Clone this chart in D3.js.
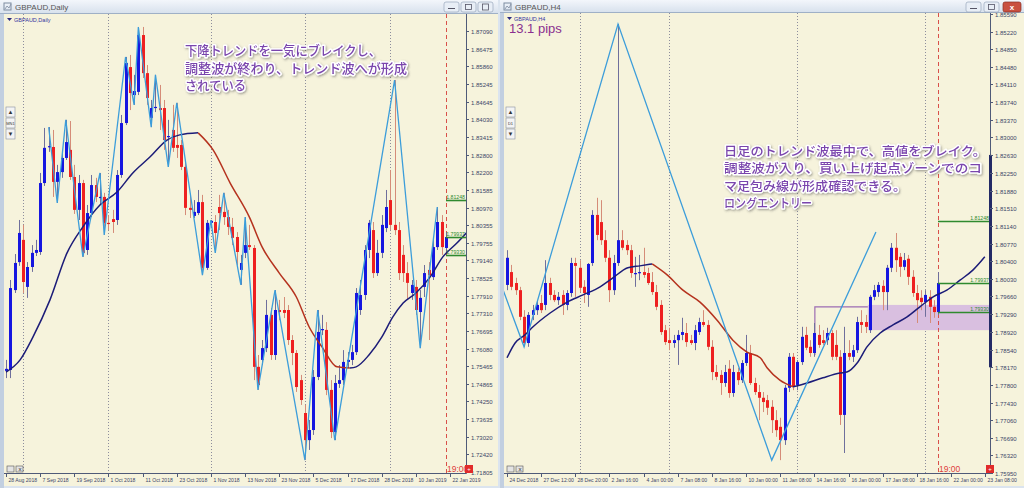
<!DOCTYPE html>
<html><head><meta charset="utf-8">
<script src="https://cdn.jsdelivr.net/npm/d3@7/dist/d3.min.js"></script>
<style>html,body{margin:0;padding:0;background:#dbe4ef;overflow:hidden}svg{display:block}</style>
</head><body>
<svg id="chart" width="1024" height="488" xmlns="http://www.w3.org/2000/svg"></svg>
<script>
// ================= LEFT PANEL DATA : GBPAUD, Daily =================
const leftOpen  = [1.7531,1.7534,1.7811,1.7908,1.7985,1.7822,1.7891,1.7940,1.7943,1.8182,1.8307,1.8307,1.8186,1.8220,1.8269,1.8297,1.8203,1.8089,1.8182,1.7950,1.8078,1.8175,1.8130,1.8134,1.8044,1.8057,1.8054,1.8210,1.8390,1.8584,1.8487,1.8498,1.8695,1.8563,1.8408,1.8442,1.8442,1.8442,1.8342,1.8366,1.8314,1.8314,1.8238,1.8096,1.8068,1.8078,1.8116,1.7888,1.8044,1.8047,1.8099,1.8082,1.8064,1.8030,1.7995,1.7881,1.7940,1.7967,1.7957,1.7545,1.7569,1.7610,1.7725,1.7586,1.7742,1.7742,1.7742,1.7638,1.7593,1.7499,1.7385,1.7291,1.7326,1.7510,1.7673,1.7673,1.7465,1.7319,1.7486,1.7499,1.7562,1.7569,1.7596,1.7742,1.7794,1.7950,1.8019,1.7870,1.7940,1.8026,1.8123,1.8037,1.8019,1.7933,1.7870,1.7801,1.7822,1.7735,1.7822,1.7881,1.7856,1.7960,1.8047,1.7957];
const leftHigh  = [1.7569,1.7846,1.7936,1.8054,1.8037,1.7908,1.7967,1.7985,1.8217,1.8373,1.8376,1.8366,1.8245,1.8290,1.8401,1.8397,1.8245,1.8210,1.8193,1.8106,1.8210,1.8200,1.8217,1.8148,1.8071,1.8089,1.8227,1.8418,1.8619,1.8626,1.8557,1.8723,1.8723,1.8591,1.8470,1.8557,1.8522,1.8470,1.8401,1.8453,1.8460,1.8331,1.8262,1.8141,1.8123,1.8158,1.8141,1.8054,1.8054,1.8071,1.8141,1.8148,1.8089,1.8061,1.8012,1.7933,1.8064,1.8037,1.7967,1.7586,1.7638,1.7777,1.7749,1.7811,1.7777,1.7787,1.7759,1.7655,1.7603,1.7517,1.7413,1.7361,1.7534,1.7742,1.7725,1.7700,1.7499,1.7517,1.7551,1.7603,1.7596,1.7621,1.7818,1.7846,1.7967,1.8054,1.8047,1.7985,1.8071,1.8158,1.8227,1.8539,1.8047,1.7967,1.7908,1.7846,1.7846,1.7811,1.7898,1.7908,1.7985,1.8099,1.8071,1.8012];
const leftLow   = [1.7506,1.7506,1.7801,1.7895,1.7801,1.7784,1.7874,1.7929,1.7933,1.8172,1.8290,1.8134,1.8113,1.8200,1.8262,1.8193,1.8075,1.8054,1.7926,1.7933,1.8064,1.8116,1.8106,1.8002,1.8019,1.8009,1.8037,1.8200,1.8383,1.8435,1.8453,1.8487,1.8546,1.8453,1.8376,1.8428,1.8366,1.8297,1.8238,1.8290,1.8269,1.8227,1.8071,1.8061,1.8061,1.8071,1.7863,1.7881,1.8026,1.7940,1.8019,1.8037,1.8002,1.7967,1.7898,1.7829,1.7922,1.7950,1.7499,1.7465,1.7551,1.7596,1.7569,1.7569,1.7707,1.7714,1.7621,1.7551,1.7458,1.7413,1.7222,1.7257,1.7309,1.7499,1.7655,1.7447,1.7298,1.7291,1.7472,1.7482,1.7541,1.7551,1.7586,1.7725,1.7777,1.7922,1.7853,1.7860,1.7922,1.8012,1.8019,1.8002,1.7846,1.7839,1.7777,1.7777,1.7725,1.7610,1.7787,1.7638,1.7846,1.7950,1.7933,1.7943];
const leftClose = [1.7538,1.7818,1.7905,1.8009,1.7839,1.7891,1.7940,1.7950,1.8182,1.8304,1.8310,1.8186,1.8220,1.8269,1.8324,1.8203,1.8089,1.8182,1.7940,1.8078,1.8175,1.8134,1.8134,1.8044,1.8040,1.8047,1.8210,1.8390,1.8598,1.8494,1.8501,1.8695,1.8563,1.8477,1.8442,1.8446,1.8435,1.8331,1.8345,1.8304,1.8304,1.8238,1.8096,1.8089,1.8082,1.8116,1.7888,1.8044,1.8051,1.8009,1.8078,1.8064,1.8030,1.7992,1.7943,1.7905,1.7967,1.7960,1.7545,1.7482,1.7610,1.7725,1.7586,1.7742,1.7735,1.7732,1.7638,1.7593,1.7475,1.7430,1.7291,1.7326,1.7510,1.7666,1.7676,1.7465,1.7319,1.7489,1.7499,1.7562,1.7569,1.7596,1.7801,1.7794,1.7950,1.8044,1.7870,1.7940,1.8037,1.8099,1.8037,1.8019,1.7870,1.7870,1.7836,1.7829,1.7742,1.7784,1.7870,1.7863,1.7960,1.8047,1.7960,1.7995];
// moving average (bar index, value)
const leftMaIndex = [0,3.3,6.3,10.3,14.3,18,22,26,29.7,33.7,37.7,40.7,45,48.5,52.5,57,60,64,68,71,74,77.5,80.5,82,85,88,90.6,93,96,99.3,102.3,105.6,108];
const leftMaValue = [1.7527,1.7569,1.7648,1.7777,1.7940,1.8030,1.8106,1.8151,1.8217,1.8272,1.8331,1.8349,1.8356,1.8297,1.8182,1.8064,1.7960,1.7870,1.7787,1.7683,1.7614,1.7545,1.7541,1.7545,1.7586,1.7648,1.7718,1.7766,1.7801,1.7856,1.7926,1.7974,1.8012];
// zigzag pivots
const leftZzIndex = [10,12,14,18,22,23,28,30,31,34,35,38,40,46,48,49,51,55,56,59,63,70,73,77,91,97,101];
const leftZzValue = [1.8376,1.8113,1.8401,1.7926,1.8217,1.8002,1.8619,1.8453,1.8723,1.8376,1.8557,1.8238,1.8460,1.7863,1.8054,1.7940,1.8148,1.7829,1.8064,1.7465,1.7811,1.7222,1.7742,1.7291,1.8539,1.7610,1.8099];
const leftPriceTicks = [1.87090,1.86475,1.85860,1.85245,1.84645,1.84030,1.83415,1.82800,1.82200,1.81585,1.80970,1.80355,1.79755,1.79140,1.78525,1.77910,1.77310,1.76695,1.76080,1.75465,1.74865,1.74250,1.73635,1.73020,1.72420,1.71805];
const leftDateLabels = ["28 Aug 2018","7 Sep 2018","19 Sep 2018","1 Oct 2018","11 Oct 2018","23 Oct 2018","1 Nov 2018","13 Nov 2018","23 Nov 2018","5 Dec 2018","17 Dec 2018","28 Dec 2018","10 Jan 2019","22 Jan 2019"];
const leftSeparators = [4,24,48,70,90];
const leftNote = ["下降トレンドを一気にブレイクし、","調整波が終わり、トレンド波へが形成","されている"];

// ================= RIGHT PANEL DATA : GBPAUD, H4 =================
const rightOpen  = [1.7990,1.8017,1.7994,1.7979,1.7923,1.7868,1.7927,1.7937,1.7952,1.7948,1.7994,1.7969,1.7958,1.7969,1.7948,1.7973,1.8036,1.8026,1.7986,1.7969,1.8036,1.8137,1.8122,1.8084,1.8047,1.7979,1.8036,1.8084,1.8074,1.8063,1.8013,1.8015,1.8017,1.8015,1.7996,1.7975,1.7948,1.7895,1.7874,1.7868,1.7874,1.7885,1.7889,1.7874,1.7868,1.7891,1.7912,1.7906,1.7860,1.7807,1.7801,1.7784,1.7814,1.7763,1.7807,1.7790,1.7826,1.7847,1.7784,1.7765,1.7753,1.7748,1.7734,1.7706,1.7692,1.7664,1.7774,1.7839,1.7780,1.7828,1.7885,1.7860,1.7847,1.7885,1.7874,1.7874,1.7889,1.7864,1.7839,1.7717,1.7847,1.7839,1.7853,1.7912,1.7912,1.7895,1.7965,1.7975,1.7988,1.7975,1.8026,1.8068,1.8049,1.8028,1.8045,1.8007,1.7973,1.7963,1.7954,1.7965,1.7944,1.7933];
const rightHigh  = [1.8063,1.8032,1.8005,1.7986,1.7937,1.7933,1.7948,1.7958,1.7969,1.8042,1.8005,1.7979,1.7975,1.7979,1.7979,1.8047,1.8047,1.8042,1.8000,1.8036,1.8147,1.8173,1.8168,1.8105,1.8063,1.8053,1.8538,1.8105,1.8084,1.8074,1.8049,1.8053,1.8068,1.8026,1.8017,1.7990,1.7958,1.7906,1.7900,1.7885,1.7895,1.7921,1.7910,1.7885,1.7906,1.7921,1.7937,1.7916,1.7874,1.7822,1.7811,1.7822,1.7832,1.7822,1.7816,1.7832,1.7885,1.7864,1.7795,1.7780,1.7765,1.7759,1.7748,1.7727,1.7711,1.7780,1.7847,1.7847,1.7832,1.7902,1.7902,1.7874,1.7910,1.7906,1.7895,1.7900,1.7895,1.7895,1.7853,1.7902,1.7874,1.7864,1.7923,1.7937,1.7927,1.7969,1.7990,1.7996,1.8000,1.8032,1.8078,1.8099,1.8057,1.8057,1.8053,1.8021,1.7990,1.7979,1.7979,1.7979,1.7958,1.8017];
const rightLow   = [1.7979,1.7979,1.7969,1.7916,1.7860,1.7860,1.7916,1.7927,1.7931,1.7937,1.7958,1.7954,1.7948,1.7927,1.7937,1.7965,1.7965,1.7975,1.7952,1.7944,1.8030,1.8084,1.8074,1.8038,1.7954,1.7969,1.8030,1.8063,1.8053,1.8005,1.7986,1.8000,1.8005,1.7990,1.7969,1.7937,1.7885,1.7864,1.7853,1.7858,1.7822,1.7874,1.7860,1.7864,1.7853,1.7885,1.7902,1.7853,1.7790,1.7790,1.7759,1.7776,1.7753,1.7755,1.7780,1.7784,1.7820,1.7780,1.7759,1.7706,1.7723,1.7717,1.7679,1.7671,1.7622,1.7654,1.7765,1.7769,1.7769,1.7822,1.7853,1.7839,1.7839,1.7858,1.7864,1.7864,1.7832,1.7832,1.7696,1.7637,1.7832,1.7828,1.7847,1.7889,1.7889,1.7889,1.7958,1.7965,1.7937,1.7937,1.8017,1.8017,1.8007,1.8021,1.7990,1.7965,1.7910,1.7937,1.7923,1.7910,1.7921,1.7927];
const rightClose = [1.8047,1.7986,1.7979,1.7923,1.7868,1.7927,1.7937,1.7948,1.7937,1.7994,1.7969,1.7958,1.7965,1.7948,1.7973,1.8036,1.8030,1.7984,1.7973,1.8034,1.8137,1.8095,1.8084,1.8047,1.7979,1.8036,1.8084,1.8068,1.8063,1.8015,1.8015,1.8017,1.8011,1.7994,1.7975,1.7944,1.7891,1.7870,1.7868,1.7874,1.7885,1.7891,1.7870,1.7868,1.7895,1.7912,1.7906,1.7860,1.7807,1.7797,1.7784,1.7807,1.7763,1.7807,1.7790,1.7826,1.7847,1.7784,1.7765,1.7753,1.7744,1.7732,1.7706,1.7685,1.7664,1.7774,1.7839,1.7776,1.7828,1.7881,1.7858,1.7847,1.7889,1.7864,1.7868,1.7889,1.7839,1.7839,1.7717,1.7847,1.7839,1.7853,1.7912,1.7906,1.7902,1.7965,1.7979,1.7990,1.7975,1.8026,1.8068,1.8042,1.8028,1.8042,1.8007,1.7973,1.7958,1.7954,1.7969,1.7944,1.7933,1.7994];
const rightMaIndex = [0,1.9,4.2,6.1,10.1,14.1,17.8,21.8,24.8,28.3,31.1,34,37.5,41.2,45.2,49.2,52.9,56.2,59.3,60.9,63.9,67,70.3,74,78,79.6,82,84.3,87.4,90.4,93.7,96.7,99.8,103,106.1,109.1,111.9];
const rightMaValue = [1.7837,1.7868,1.7885,1.7902,1.7931,1.7954,1.7969,1.7986,1.8005,1.8026,1.8030,1.8034,1.8011,1.7979,1.7954,1.7916,1.7874,1.7849,1.7837,1.7816,1.7790,1.7776,1.7784,1.7795,1.7805,1.7807,1.7826,1.7860,1.7889,1.7906,1.7923,1.7944,1.7965,1.7979,1.8000,1.8021,1.8049];
const rightZzIndex = [-3,4,26,62,86.4];
const rightZzValue = [1.8030,1.7860,1.8538,1.7622,1.8101];
const rightPriceTicks = [1.85590,1.85220,1.84850,1.84480,1.84110,1.83740,1.83370,1.83000,1.82630,1.82250,1.81880,1.81510,1.81140,1.80770,1.80400,1.80030,1.79660,1.79290,1.78920,1.78540,1.78170,1.77800,1.77430,1.77060,1.76690,1.76320,1.75950];
const rightDateLabels = ["24 Dec 2018","27 Dec 12:00","28 Dec 20:00","2 Jan 16:00","4 Jan 00:00","7 Jan 08:00","8 Jan 16:00","10 Jan 00:00","11 Jan 08:00","14 Jan 16:00","16 Jan 00:00","17 Jan 08:00","18 Jan 16:00","22 Jan 00:00","23 Jan 08:00"];
const rightSeparators = [17,38,68,98];
const rightNote = ["日足のトレンド波最中で、高値をブレイク。","調整波が入り、買い上げ起点ゾーンでのコ","マ足包み線が形成確認できる。","ロングエントリー"];
// shared levels (horizontal green lines) and zone
const greenLevels = [1.81248,1.79937,1.79330];
const zoneTop = 1.7948, zoneBottom = 1.7895, zoneStartIndex = 84.5;
const zoneLineIndex = 72.1, zoneLineTop = 1.7944, zoneLineBottom = 1.7843;

// ================= DRAWING =================
const svg = d3.select('#chart');
const defs = svg.append('defs');
const tg = defs.append('linearGradient').attr('id','titleGrad').attr('x1',0).attr('y1',0).attr('x2',0).attr('y2',1);
tg.append('stop').attr('offset','0%').attr('stop-color','#f3f6fb');
tg.append('stop').attr('offset','100%').attr('stop-color','#d6e0ec');
const sh = defs.append('filter').attr('id','txtShadow').attr('x','-10%').attr('y','-40%').attr('width','125%').attr('height','190%');
sh.append('feDropShadow').attr('dx',1).attr('dy',1.2).attr('stdDeviation',1.1).attr('flood-color','#444').attr('flood-opacity',0.5);

svg.append('rect').attr('width',1024).attr('height',488).attr('fill','#dbe4ef');

const BULL='#1616e0', BEAR='#ee2020', BULLW='#6f6f9c', BEARW='#d58c78';
const NAVY='#1c1c78', MARED='#b5321e', ZZ='#3c9dda', GREEN='#2f8a2f';
const FONT='"Liberation Sans", Arial, sans-serif';

function drawPanel(cfg){
  const g = svg.append('g');
  const B = cfg.box;
  // window chrome
  g.append('rect').attr('x',B.winL).attr('y',0).attr('width',B.winR-B.winL).attr('height',B.top).attr('fill','url(#titleGrad)');
  g.append('line').attr('x1',B.winL).attr('x2',B.winR).attr('y1',B.top-0.5).attr('y2',B.top-0.5).attr('stroke','#9fb0c6');
  g.append('rect').attr('x',B.winL).attr('y',B.top).attr('width',B.left-B.winL).attr('height',488-B.top).attr('fill','#c2cfe0');
  g.append('rect').attr('x',B.left).attr('y',B.top).attr('width',B.winR-B.left).attr('height',486-B.top).attr('fill','#f6f3dc');
  // title icon + text
  g.append('rect').attr('x',B.winL+4).attr('y',3).attr('width',7).attr('height',7).attr('fill','none').attr('stroke','#7d8ba0');
  g.append('path').attr('d',`M${B.winL+5},9 l2,-3 l2,2 l2,-4`).attr('fill','none').attr('stroke','#7d8ba0').attr('stroke-width',0.8);
  g.append('text').attr('x',B.winL+15).attr('y',10).attr('font-family',FONT).attr('font-size',8).attr('fill','#555').text(cfg.title);
  // window buttons
  cfg.buttons.forEach((bx,k)=>{
    const last = k===cfg.buttons.length-1 && cfg.closeRed;
    g.append('rect').attr('x',bx).attr('y',2).attr('width',last?18:15).attr('height',10).attr('rx',2)
      .attr('fill',last?'#c9503f':'#e8eef6').attr('stroke',last?'#8a2e22':'#9aa8bb').attr('stroke-width',0.7);
    if(k===0) g.append('line').attr('x1',bx+4).attr('x2',bx+11).attr('y1',8.5).attr('y2',8.5).attr('stroke','#556');
    else if(k===1) g.append('rect').attr('x',bx+4.5).attr('y',4.5).attr('width',6).attr('height',5).attr('fill','none').attr('stroke','#556').attr('stroke-width',0.8);
    else if(last) g.append('text').attr('x',bx+9).attr('y',10).attr('text-anchor','middle').attr('font-family',FONT).attr('font-size',8).attr('font-weight','bold').attr('fill','#fff').text('x');
    else g.append('rect').attr('x',bx+4.5).attr('y',4).attr('width',6).attr('height',6).attr('fill','none').attr('stroke','#556').attr('stroke-width',0.8);
  });

  const x = d3.scaleLinear().domain(cfg.xDomain).range(cfg.xRange);
  const y = d3.scaleLinear().domain(cfg.yDomain).range(cfg.yRange);
  const cx = i => Math.round(x(i));

  const clipId = cfg.id+'Clip';
  defs.append('clipPath').attr('id',clipId).append('rect').attr('x',B.left).attr('y',B.top).attr('width',B.right-B.left).attr('height',B.bottom-B.top);
  const plot = g.append('g').attr('clip-path',`url(#${clipId})`);

  // period separators
  plot.selectAll('line.sep').data(cfg.separators).join('line').attr('class','sep')
    .attr('x1',d=>cx(d)+0.5).attr('x2',d=>cx(d)+0.5).attr('y1',B.top).attr('y2',B.bottom)
    .attr('stroke','#8d8d9c').attr('stroke-width',1).attr('stroke-dasharray','1,2');

  if(cfg.zone){
    plot.append('rect').attr('x',x(cfg.zone.start)).attr('y',y(cfg.zone.top)).attr('width',B.right-x(cfg.zone.start)).attr('height',y(cfg.zone.bottom)-y(cfg.zone.top)).attr('fill','#d9bfe0');
    plot.append('path').attr('d',d3.line()([[x(cfg.zone.lineIndex),y(cfg.zone.lineBottom)],[x(cfg.zone.lineIndex),y(cfg.zone.lineTop)],[x(cfg.zone.start),y(cfg.zone.lineTop)]]))
      .attr('fill','none').attr('stroke','#9c6cb2').attr('stroke-width',1.2);
  }

  // current bar dashed line
  plot.append('line').attr('x1',cx(cfg.current)+0.5).attr('x2',cx(cfg.current)+0.5).attr('y1',B.top).attr('y2',B.bottom)
    .attr('stroke','#d9504a').attr('stroke-width',1).attr('stroke-dasharray','4,3');

  // candles
  const O=cfg.open,Hh=cfg.high,L=cfg.low,C=cfg.close;
  const idx = d3.range(O.length);
  plot.selectAll('line.wick').data(idx).join('line').attr('class','wick')
    .attr('x1',i=>cx(i)+0.5).attr('x2',i=>cx(i)+0.5).attr('y1',i=>y(Hh[i])).attr('y2',i=>y(L[i]))
    .attr('stroke',i=>C[i]>=O[i]?BULLW:BEARW).attr('stroke-width',1);
  plot.selectAll('rect.body').data(idx).join('rect').attr('class','body')
    .attr('x',i=>cx(i)-1).attr('width',3)
    .attr('y',i=>Math.min(y(O[i]),y(C[i])))
    .attr('height',i=>Math.max(1.2,Math.abs(y(O[i])-y(C[i]))))
    .attr('fill',i=>C[i]>=O[i]?BULL:BEAR);

  // moving average, coloured by direction
  const maPts = cfg.maIndex.map((d,k)=>[x(d),y(cfg.maValue[k])]);
  let runs=[], cur=null;
  for(let k=0;k<maPts.length-1;k++){
    const col = cfg.maValue[k+1] >= cfg.maValue[k] ? NAVY : MARED;
    if(!cur || cur.col!==col){ cur={col,pts:[maPts[k]]}; runs.push(cur); }
    cur.pts.push(maPts[k+1]);
  }
  const mline = d3.line().curve(d3.curveMonotoneX);
  runs.forEach(r=>plot.append('path').attr('d',mline(r.pts)).attr('fill','none').attr('stroke',r.col).attr('stroke-width',1.5));

  // zigzag
  const zz = cfg.zzIndex.map((d,k)=>[x(d),y(cfg.zzValue[k])]);
  plot.append('path').attr('d',d3.line()(zz)).attr('fill','none').attr('stroke',ZZ).attr('stroke-width',1.3);

  // green levels
  cfg.levels.forEach(v=>{
    g.append('line').attr('x1',cx(cfg.current)).attr('x2',B.right).attr('y1',Math.round(y(v))+0.5).attr('y2',Math.round(y(v))+0.5)
      .attr('stroke',GREEN).attr('stroke-width',1.6);
    g.append('text').attr('x',B.right-1).attr('y',Math.round(y(v))-1.5).attr('text-anchor','end')
      .attr('font-family',FONT).attr('font-size',5.2).attr('fill',GREEN).text(v.toFixed(5));
  });

  // axes
  g.append('line').attr('x1',B.right+0.5).attr('x2',B.right+0.5).attr('y1',B.top).attr('y2',B.bottom+0.5).attr('stroke','#4f5a78');
  g.append('line').attr('x1',B.left).attr('x2',B.right+0.5).attr('y1',B.bottom+0.5).attr('y2',B.bottom+0.5).attr('stroke','#4f5a78');
  if(cfg.scaleBar){
    g.append('rect').attr('x',B.right-1).attr('y',y(cfg.scaleBar[0])).attr('width',3).attr('height',y(cfg.scaleBar[1])-y(cfg.scaleBar[0])).attr('fill','#232a66');
  }
  cfg.priceTicks.forEach(p=>{
    const yy=Math.round(y(p))+0.5;
    g.append('line').attr('x1',B.right).attr('x2',B.right+3).attr('y1',yy).attr('y2',yy).attr('stroke','#4f5a78');
    g.append('text').attr('x',B.right+5).attr('y',yy+2.2).attr('font-family',FONT).attr('font-size',6).attr('fill','#3b4668').text(p.toFixed(5));
  });
  cfg.dateLabels.forEach((t,k)=>{
    const xx = cx(k*8)+0.5;
    g.append('line').attr('x1',xx).attr('x2',xx).attr('y1',B.bottom).attr('y2',B.bottom+4).attr('stroke','#4f5a78');
    g.append('text').attr('x',xx+2).attr('y',B.bottom+9).attr('font-family',FONT).attr('font-size',5.1).attr('fill','#3b4668').text(t);
  });

  // inner symbol label
  g.append('path').attr('d',`M${B.left+3},${B.top+4} l5,0 l-2.5,3 z`).attr('fill','#2a2a80');
  g.append('text').attr('x',B.left+10).attr('y',B.top+8).attr('font-family',FONT).attr('font-size',5.5).attr('fill','#3434a0').text(cfg.title);

  // scroll buttons
  ['▲',cfg.tf,'▼'].forEach((s,k)=>{
    const by = 107 + k*11;
    g.append('rect').attr('x',B.left+2).attr('y',by).attr('width',9).attr('height',10).attr('fill','#f4f4f4').attr('stroke','#8890a0').attr('stroke-width',0.6);
    g.append('text').attr('x',B.left+6.5).attr('y',by+7).attr('text-anchor','middle').attr('font-family',FONT).attr('font-size',k===1?4:6).attr('fill','#333').text(s);
  });
  // bottom-left icons
  [0,9].forEach(dx=>{
    g.append('rect').attr('x',B.left+3+dx).attr('y',B.bottom-7).attr('width',7).attr('height',6).attr('fill','#e4e4e4').attr('stroke','#555').attr('stroke-width',0.6);
  });
  g.append('text').attr('x',B.left+14.5).attr('y',B.bottom-2).attr('font-family',FONT).attr('font-size',6).attr('fill','#222').text('x');

  // timer text and red box
  g.append('text').attr('x',cx(cfg.current)+1).attr('y',B.bottom-1).attr('font-family',FONT).attr('font-size',8.5).attr('fill','#e0403c').text('19:00');
  g.append('rect').attr('x',cfg.redBoxX).attr('y',B.bottom-8).attr('width',8).attr('height',8).attr('fill','#e12b2b');
  g.append('text').attr('x',cfg.redBoxX+4).attr('y',B.bottom-2).attr('text-anchor','middle').attr('font-family',FONT).attr('font-size',6).attr('fill','#fff').text('+');

  // annotation
  const n = cfg.note;
  n.lines.forEach((t,k)=>{
    g.append('text').attr('x',n.x).attr('y',n.y0+k*n.dy).attr('font-family','"Noto Sans CJK JP", sans-serif')
      .attr('font-size',n.size).attr('font-weight',500).attr('fill','#7a45ad')
      .attr('stroke','#ffffff').attr('stroke-width',3).attr('stroke-linejoin','round').attr('paint-order','stroke')
      .attr('filter','url(#txtShadow)')
      .attr('textLength',n.widths[k]).attr('lengthAdjust','spacingAndGlyphs').text(t);
  });
  return {g,x,y};
}

drawPanel({
  id:'left', title:'GBPAUD,Daily', tf:'MN1',
  box:{winL:0, winR:498, left:4, right:466, top:14, bottom:473},
  buttons:[444,461,478], closeRed:false,
  xDomain:[0,104], xRange:[6, 6+104*4.27],
  yDomain:[1.71805,1.87090], yRange:[472,31],
  open:leftOpen, high:leftHigh, low:leftLow, close:leftClose,
  maIndex:leftMaIndex, maValue:leftMaValue, zzIndex:leftZzIndex, zzValue:leftZzValue,
  priceTicks:leftPriceTicks, dateLabels:leftDateLabels, separators:leftSeparators, current:103,
  levels:greenLevels, redBoxX:465,
  note:{lines:leftNote, x:185, y0:55, dy:17.6, size:13, widths:[196,222,61]}
});
drawPanel({
  id:'right', title:'GBPAUD,H4', tf:'D1',
  box:{winL:500, winR:1024, left:504, right:990, top:13, bottom:473},
  buttons:[966,984,1003], closeRed:true,
  xDomain:[0,112], xRange:[507, 507+112*4.27],
  yDomain:[1.75950,1.85590], yRange:[473,14],
  open:rightOpen, high:rightHigh, low:rightLow, close:rightClose,
  maIndex:rightMaIndex, maValue:rightMaValue, zzIndex:rightZzIndex, zzValue:rightZzValue,
  priceTicks:rightPriceTicks, dateLabels:rightDateLabels, separators:rightSeparators, current:101,
  levels:greenLevels, redBoxX:986, scaleBar:[1.8263,1.7817],
  zone:{start:zoneStartIndex, top:zoneTop, bottom:zoneBottom, lineIndex:zoneLineIndex, lineTop:zoneLineTop, lineBottom:zoneLineBottom},
  note:{lines:rightNote, x:724, y0:156, dy:17.3, size:12.5, widths:[262,258,182,88]}
});
svg.append('text').attr('x',509).attr('y',33).attr('font-family',FONT).attr('font-size',13).attr('fill','#8a2f8f').text('13.1 pips');
</script>
</body></html>
